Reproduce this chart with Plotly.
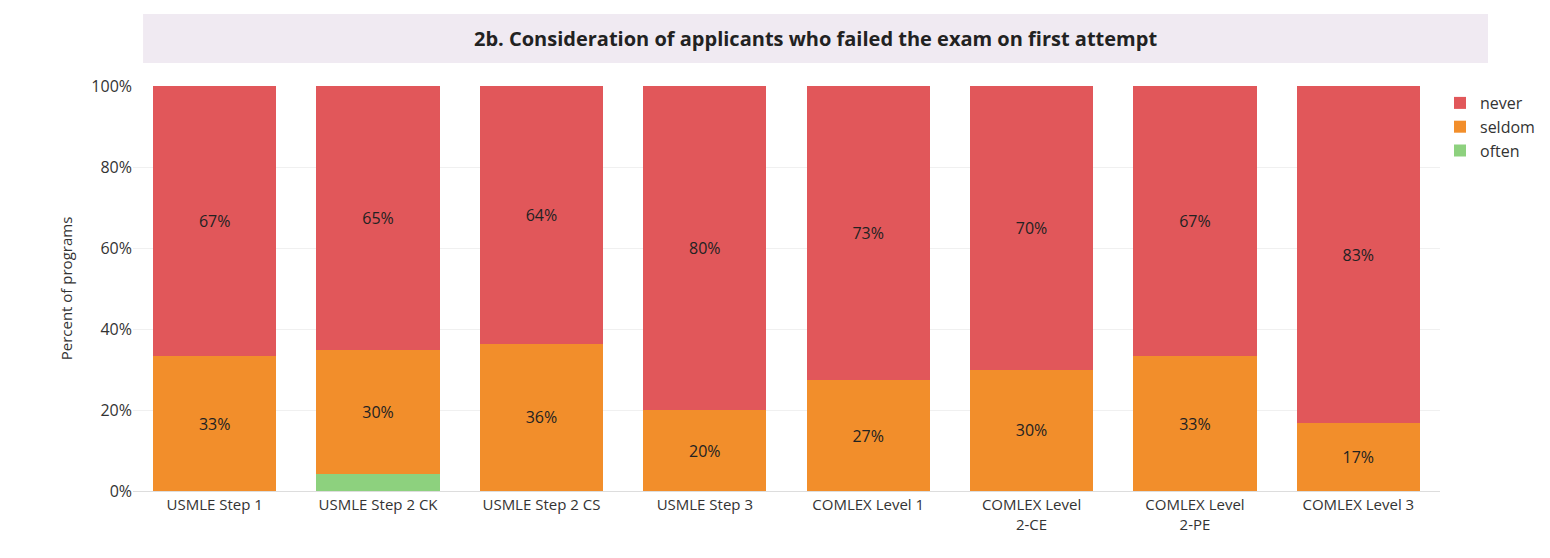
import plotly.graph_objects as go

categories = ["USMLE Step 1", "USMLE Step 2 CK", "USMLE Step 2 CS", "USMLE Step 3",
              "COMLEX Level 1", "COMLEX Level<br>2-CE", "COMLEX Level<br>2-PE", "COMLEX Level 3"]
often = [0, 4.3, 0, 0, 0, 0, 0, 0]
seldom = [33.3, 30.4, 36.4, 20.0, 27.3, 30.0, 33.3, 16.7]
never = [66.7, 65.2, 63.6, 80.0, 72.7, 70.0, 66.7, 83.3]
often_text = ["", "", "", "", "", "", "", ""]
seldom_text = ["33%", "30%", "36%", "20%", "27%", "30%", "33%", "17%"]
never_text = ["67%", "65%", "64%", "80%", "73%", "70%", "67%", "83%"]

fig = go.Figure()
for name, vals, txt, col in [("often", often, often_text, "#8dd17e"),
                             ("seldom", seldom, seldom_text, "#f28e2b"),
                             ("never", never, never_text, "#e1575a")]:
    fig.add_bar(x=categories, y=vals, name=name, marker_color=col, marker_line_width=0,
                text=txt, textposition="inside", insidetextanchor="middle",
                textfont=dict(color="#222", size=16), hoverinfo="skip")

fig.update_layout(
    barmode="stack", bargap=0.245, width=1550, height=558,
    margin=dict(l=125, r=118, t=78, b=75),
    plot_bgcolor="white", paper_bgcolor="white",
    font=dict(family="Open Sans, Noto Sans, sans-serif", size=15, color="#333"),
    legend=dict(x=1.0, y=1.0, xanchor="left", yanchor="top", traceorder="reversed",
                font=dict(size=16), itemwidth=30),
    yaxis=dict(range=[0, 100], tickvals=[0, 20, 40, 60, 80, 100],
               ticktext=["0%", "20%", "40%", "60%", "80%", "100%"],
               showgrid=True, gridcolor="#f0f0f0", zeroline=False,
               title=dict(text="Percent of programs", font=dict(size=15)),
               tickfont=dict(size=16)),
    xaxis=dict(tickfont=dict(size=15), showline=True, linecolor="#ddd", ticks=""),
    shapes=[dict(type="rect", xref="paper", yref="paper", x0=0.0077, x1=1.0367,
                 y0=1.057, y1=1.178, fillcolor="#f0eaf2", line_width=0, layer="below")],
    annotations=[dict(text="<b>2b. Consideration of applicants who failed the exam on first attempt</b>",
                      xref="paper", yref="paper", x=0.522, y=1.117, yanchor="middle",
                      showarrow=False, font=dict(size=20, color="#222"))],
)
fig.write_html("out.html")
